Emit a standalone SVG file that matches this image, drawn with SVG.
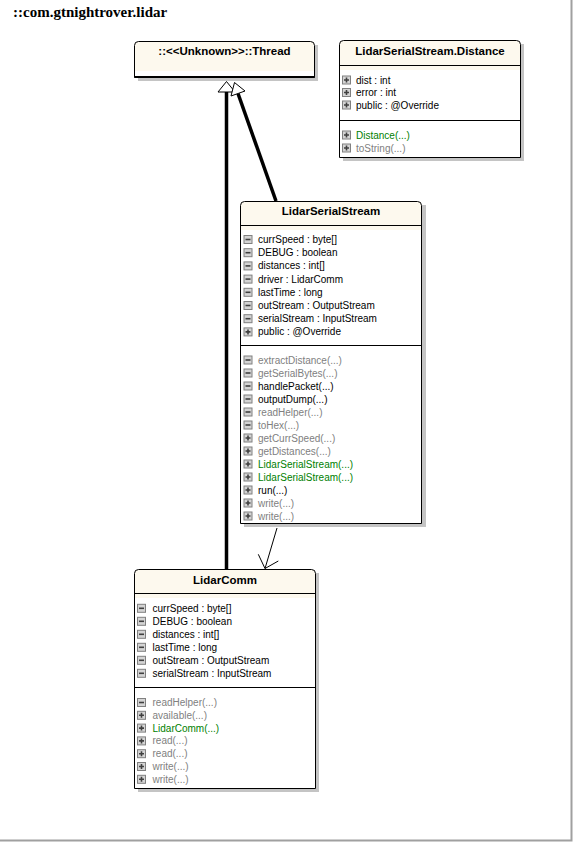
<svg xmlns="http://www.w3.org/2000/svg" xmlns:xlink="http://www.w3.org/1999/xlink" width="573" height="842" viewBox="0 0 573 842">
<style>
.t{font-family:"Liberation Sans",Arial,sans-serif;font-size:10px;fill:#000}
.g{fill:#808080}
.gr{fill:#008000}
.h{font-family:"Liberation Sans",Arial,sans-serif;font-size:11.5px;font-weight:bold;text-anchor:middle;fill:#000}
.box{fill:none;stroke:#000;stroke-width:1}
.bg{fill:#fff}
.cream{fill:#fdf9ee}
.sh{fill:#c4c4c4}
.sep{stroke:#000;stroke-width:1}
.thick{stroke:#000;stroke-width:3.5;fill:none}
.hollow{fill:#fff;stroke:#000;stroke-width:1}
.thin{stroke:#000;stroke-width:1;fill:none}
</style>
<defs>
<g id="m"><rect x="0.5" y="0.5" width="8" height="8" fill="#d4d4d4" stroke="#808080"/><path d="M2 4.5h5" stroke="#404040" stroke-width="1.6"/></g>
<g id="p"><rect x="0.5" y="0.5" width="8" height="8" fill="#d4d4d4" stroke="#808080"/><path d="M2 4.5h5M4.5 2v5" stroke="#404040" stroke-width="1.6"/></g>
</defs>
<rect width="573" height="842" fill="#fff"/>
<path d="M571.5 0V840.5H0" fill="none" stroke="#a0a0a0" stroke-width="2"/>
<text x="13" y="17" font-family="'Liberation Serif','Times New Roman',serif" font-size="15" font-weight="bold">::com.gtnightrover.lidar</text>

<g id="Thread">
<rect class="sh" x="138" y="45" width="180" height="36"/>
<path class="bg" d="M134.5 77.5V45.5Q134.5 41.5 138.5 41.5H310.5Q314.5 41.5 314.5 45.5V77.5Z"/>
<rect class="cream" x="135" y="42" width="179" height="29"/>
<path class="box" d="M134.5 77.5V45.5Q134.5 41.5 138.5 41.5H310.5Q314.5 41.5 314.5 45.5V77.5Z"/>
<line x1="134.5" y1="77" x2="314.5" y2="77" stroke="#000" stroke-width="2"/>
<text class="h" x="224.5" y="55">::&lt;&lt;Unknown&gt;&gt;::Thread</text>
</g>

<g id="Distance">
<rect class="sh" x="343" y="44" width="181" height="117"/>
<path class="bg" d="M339.5 157.5V44.5Q339.5 40.5 343.5 40.5H516.5Q520.5 40.5 520.5 44.5V157.5Z"/>
<rect class="cream" x="340" y="41" width="180" height="29"/>
<path class="box" d="M339.5 157.5V44.5Q339.5 40.5 343.5 40.5H516.5Q520.5 40.5 520.5 44.5V157.5Z"/>
<line class="sep" x1="339.5" y1="65.5" x2="520.5" y2="65.5"/>
<line class="sep" x1="339.5" y1="120.5" x2="520.5" y2="120.5"/>
<text class="h" x="430" y="55">LidarSerialStream.Distance</text>
<use xlink:href="#p" x="342" y="75.5"/><text class="t" x="356" y="83.5">dist : int</text>
<use xlink:href="#p" x="342" y="88"/><text class="t" x="356" y="96">error : int</text>
<use xlink:href="#p" x="342" y="100.5"/><text class="t" x="356" y="108.5">public : @Override</text>
<use xlink:href="#p" x="342" y="130.5"/><text class="t gr" x="356" y="138.5">Distance(...)</text>
<use xlink:href="#p" x="342" y="143.5"/><text class="t g" x="356" y="151.5">toString(...)</text>
</g>

<g id="LidarSerialStream">
<rect class="sh" x="244" y="205" width="182" height="322"/>
<path class="bg" d="M240.5 523.5V205.5Q240.5 201.5 244.5 201.5H417.5Q421.5 201.5 421.5 205.5V523.5Z"/>
<rect class="cream" x="241" y="202" width="180" height="28"/>
<path class="box" d="M240.5 523.5V205.5Q240.5 201.5 244.5 201.5H417.5Q421.5 201.5 421.5 205.5V523.5Z"/>
<line class="sep" x1="240.5" y1="225.5" x2="421.5" y2="225.5"/>
<line class="sep" x1="240.5" y1="345.5" x2="421.5" y2="345.5"/>
<text class="h" x="331" y="215">LidarSerialStream</text>
<use xlink:href="#m" x="243.5" y="235"/><text class="t" x="258" y="243">currSpeed : byte[]</text>
<use xlink:href="#m" x="243.5" y="248.2"/><text class="t" x="258" y="256.2">DEBUG : boolean</text>
<use xlink:href="#m" x="243.5" y="261.4"/><text class="t" x="258" y="269.4">distances : int[]</text>
<use xlink:href="#m" x="243.5" y="274.6"/><text class="t" x="258" y="282.6">driver : LidarComm</text>
<use xlink:href="#m" x="243.5" y="287.8"/><text class="t" x="258" y="295.8">lastTime : long</text>
<use xlink:href="#m" x="243.5" y="301"/><text class="t" x="258" y="309">outStream : OutputStream</text>
<use xlink:href="#m" x="243.5" y="314.2"/><text class="t" x="258" y="322.2">serialStream : InputStream</text>
<use xlink:href="#p" x="243.5" y="327.4"/><text class="t" x="258" y="335.4">public : @Override</text>
<use xlink:href="#m" x="243.5" y="355.5"/><text class="t g" x="258" y="363.5">extractDistance(...)</text>
<use xlink:href="#m" x="243.5" y="368.5"/><text class="t g" x="258" y="376.5">getSerialBytes(...)</text>
<use xlink:href="#m" x="243.5" y="381.5"/><text class="t" x="258" y="389.5">handlePacket(...)</text>
<use xlink:href="#m" x="243.5" y="394.5"/><text class="t" x="258" y="402.5">outputDump(...)</text>
<use xlink:href="#m" x="243.5" y="407.5"/><text class="t g" x="258" y="415.5">readHelper(...)</text>
<use xlink:href="#m" x="243.5" y="420.5"/><text class="t g" x="258" y="428.5">toHex(...)</text>
<use xlink:href="#p" x="243.5" y="433.5"/><text class="t g" x="258" y="441.5">getCurrSpeed(...)</text>
<use xlink:href="#p" x="243.5" y="446.5"/><text class="t g" x="258" y="454.5">getDistances(...)</text>
<use xlink:href="#p" x="243.5" y="459.5"/><text class="t gr" x="258" y="467.5">LidarSerialStream(...)</text>
<use xlink:href="#p" x="243.5" y="472.5"/><text class="t gr" x="258" y="480.5">LidarSerialStream(...)</text>
<use xlink:href="#p" x="243.5" y="485.5"/><text class="t" x="258" y="493.5">run(...)</text>
<use xlink:href="#p" x="243.5" y="498.5"/><text class="t g" x="258" y="506.5">write(...)</text>
<use xlink:href="#p" x="243.5" y="511.5"/><text class="t g" x="258" y="519.5">write(...)</text>
</g>

<g id="LidarComm">
<rect class="sh" x="138" y="573" width="181" height="219"/>
<path class="bg" d="M134.5 788.5V573.5Q134.5 569.5 138.5 569.5H311.5Q315.5 569.5 315.5 573.5V788.5Z"/>
<rect class="cream" x="135" y="570" width="180" height="28"/>
<path class="box" d="M134.5 788.5V573.5Q134.5 569.5 138.5 569.5H311.5Q315.5 569.5 315.5 573.5V788.5Z"/>
<line class="sep" x1="134.5" y1="593.5" x2="315.5" y2="593.5"/>
<line class="sep" x1="134.5" y1="687.5" x2="315.5" y2="687.5"/>
<text class="h" x="225" y="584">LidarComm</text>
<use xlink:href="#m" x="137" y="603.8"/><text class="t" x="152.5" y="611.8">currSpeed : byte[]</text>
<use xlink:href="#m" x="137" y="616.8"/><text class="t" x="152.5" y="624.8">DEBUG : boolean</text>
<use xlink:href="#m" x="137" y="629.8"/><text class="t" x="152.5" y="637.8">distances : int[]</text>
<use xlink:href="#m" x="137" y="642.8"/><text class="t" x="152.5" y="650.8">lastTime : long</text>
<use xlink:href="#m" x="137" y="655.8"/><text class="t" x="152.5" y="663.8">outStream : OutputStream</text>
<use xlink:href="#m" x="137" y="668.8"/><text class="t" x="152.5" y="676.8">serialStream : InputStream</text>
<use xlink:href="#m" x="137" y="698"/><text class="t g" x="152.5" y="706">readHelper(...)</text>
<use xlink:href="#p" x="137" y="710.8"/><text class="t g" x="152.5" y="718.8">available(...)</text>
<use xlink:href="#p" x="137" y="723.6"/><text class="t gr" x="152.5" y="731.6">LidarComm(...)</text>
<use xlink:href="#p" x="137" y="736.4"/><text class="t g" x="152.5" y="744.4">read(...)</text>
<use xlink:href="#p" x="137" y="749.2"/><text class="t g" x="152.5" y="757.2">read(...)</text>
<use xlink:href="#p" x="137" y="762"/><text class="t g" x="152.5" y="770">write(...)</text>
<use xlink:href="#p" x="137" y="774.8"/><text class="t g" x="152.5" y="782.8">write(...)</text>
</g>

<g id="connectors">
<line class="thick" x1="226.5" y1="569" x2="226.5" y2="91"/>
<polygon class="hollow" points="226.5,81.5 218,92 235,92"/>
<line class="thick" x1="276" y1="201" x2="238" y2="93.5"/>
<polygon class="hollow" points="234.5,82.5 231,96 245,91"/>
<line class="thin" x1="277" y1="528" x2="265" y2="568.5"/>
<path class="thin" d="M258.3 554.3L265 568.5L278.3 561"/>
</g>
</svg>
